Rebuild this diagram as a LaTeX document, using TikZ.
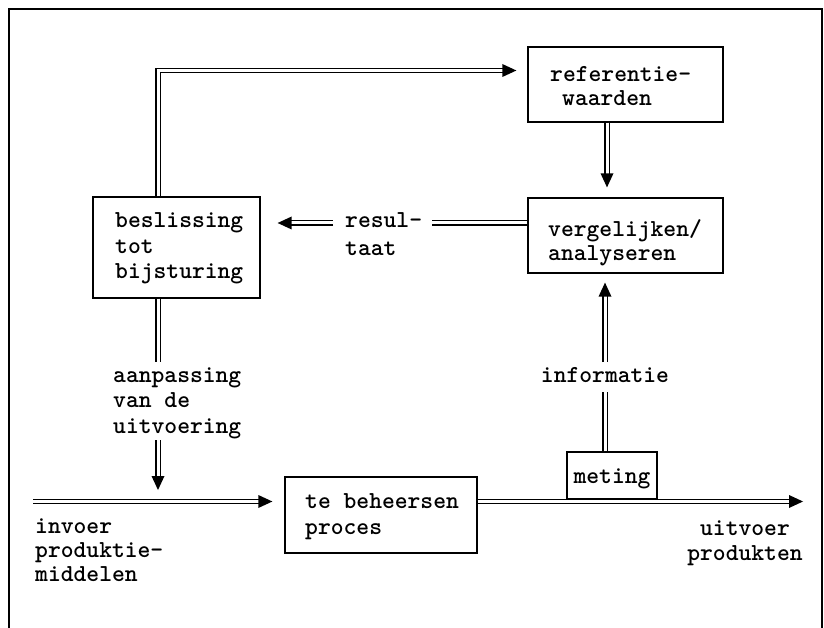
\documentclass[tikz,border=0pt]{standalone}
\usepackage{fontspec}
\usetikzlibrary{calc}
\begin{document}
\begin{tikzpicture}[x=1pt,y=-1pt,
  box/.style={draw, line width=1.3pt, rectangle, inner sep=0pt},
  dbl/.style={draw, double, double distance=3pt, line width=1.2pt},
  lbl/.style={font=\fontsize{24.4}{26}\selectfont\ttfamily\bfseries, anchor=base west, inner sep=0pt},
  clbl/.style={lbl, anchor=base},
  atip/.pic={\fill (0,0) -- (-14,-6.5) -- (-14,6.5) -- cycle;}
]
\useasboundingbox (0,0) rectangle (824,628);
\fill[white] (0,0) rectangle (824,628);
% frame
\draw[line width=1.3pt] (9,628) -- (9,9) -- (822,9) -- (822,628);

% boxes
\node[box, minimum width=195, minimum height=75] (ref) at (625.5,84.5) {};
\node[box, minimum width=195, minimum height=75] (verg) at (625.5,235.5) {};
\node[box, minimum width=167, minimum height=101] (besl) at (176.5,247.5) {};
\node[box, minimum width=192, minimum height=76] (proc) at (381,515) {};
\node[box, minimum width=90, minimum height=47, fill=white] (met) at (612,475.5) {};

% texts
\node[lbl] (ref1) at (550,82) {referentie-};
\node[lbl] (ref2) at (562,106) {waarden};
\node[lbl] (verg1) at (548,237) {vergelijken/};
\node[lbl] (verg2) at (548,261) {analyseren};
\node[lbl] (besl1) at (115,228) {beslissing};
\node[lbl] (besl2) at (115,254) {tot};
\node[lbl] (besl3) at (115,278) {bijsturing};
\node[lbl] (res1) at (345,228) {resul-};
\node[lbl] (res2) at (345,255) {taat};
\node[lbl] (aan1) at (113,382) {aanpassing};
\node[lbl] (aan2) at (113,407) {van de};
\node[lbl] (aan3) at (113,433) {uitvoering};
\node[clbl] (info) at (605,382) {informatie};
\node[clbl] (met1) at (612,483) {meting};
\node[lbl] (proc1) at (305,508) {te beheersen};
\node[lbl] (proc2) at (305,534) {proces};
\node[lbl] (inv1) at (35,533) {invoer};
\node[lbl] (inv2) at (35,557) {produktie-};
\node[lbl] (inv3) at (35,581) {middelen};
\node[clbl] (uit1) at (745,535) {uitvoer};
\node[clbl] (uit2) at (745,560) {produkten};

% named coordinates
\coordinate (c1) at (158,70.5);
\coordinate (cB) at (607,0);
\coordinate (cC) at (0,223);
\coordinate (d1) at (158,362);
\coordinate (d2) at (158,440);
\coordinate (dT) at (158,490);
\coordinate (in0) at (33,501.5);
\coordinate (out0) at (803,501.5);
\coordinate (g1) at (605,392);
\coordinate (g2) at (605,362);

% A: beslissing -> referentiewaarden
\draw[dbl] (besl.north -| c1) -- (c1) -- ($(ref.west |- c1)+(-19,0)$);
\pic at ($(ref.west |- c1)+(-11,0)$) {atip};
% B: referentiewaarden -> vergelijken
\draw[dbl] (ref.south -| cB) -- ($(verg.north -| cB)+(0,-18)$);
\pic[rotate=-90] at ($(verg.north -| cB)+(0,-10)$) {atip};
% C: vergelijken -> beslissing (resultaat)
\draw[dbl] (verg.west |- cC) -- ($(res1.east |- cC)+(10,0)$);
\draw[dbl] ($(res1.west |- cC)+(-12,0)$) -- ($(besl.east |- cC)+(25,0)$);
\pic[rotate=180] at ($(besl.east |- cC)+(17,0)$) {atip};
% D: beslissing -> proces (aanpassing)
\draw[dbl] (besl.south -| c1) -- (d1);
\draw[dbl] (d2) -- ($(dT)+(0,-8)$);
\pic[rotate=-90] at (dT) {atip};
% E: invoer -> proces
\draw[dbl] (in0) -- ($(proc.west |- in0)+(-20,0)$);
\pic at ($(proc.west |- in0)+(-12,0)$) {atip};
% F: proces -> uitvoer
\draw[dbl] (proc.east |- out0) -- ($(out0)+(-8,0)$);
\pic at (out0) {atip};
% meting box redrawn on top of line
\draw[line width=1.3pt] (met.south west) -- (met.north west) -- (met.north east) -- (met.south east);
% G: meting -> vergelijken (informatie)
\draw[dbl] (met.north -| g1) -- (g1);
\draw[dbl] (g2) -- ($(verg.south -| g2)+(0,17)$);
\pic[rotate=90] at ($(verg.south -| g2)+(0,9)$) {atip};
\end{tikzpicture}
\end{document}
